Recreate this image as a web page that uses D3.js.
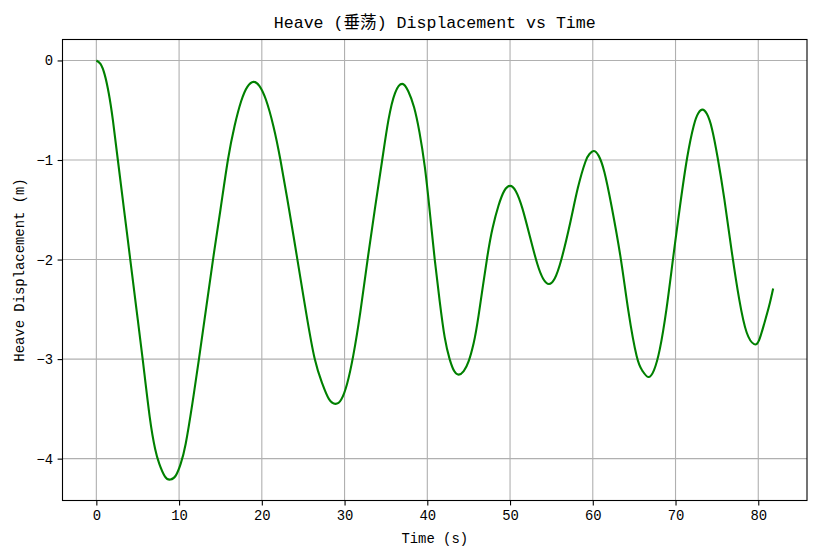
<!DOCTYPE html>
<html>
<head>
<meta charset="utf-8">
<script src="https://cdn.jsdelivr.net/npm/d3@7"></script>
<style>
  body { margin: 0; background: #fff; }
  svg text { font-family: "Liberation Mono", "Noto Sans CJK SC", monospace; fill: #000; }
  .grid line { stroke: #b0b0b0; stroke-width: 1.1; }
  .axis path, .axis line { stroke: #000; stroke-width: 1.1; }
</style>
</head>
<body>
<script>
// time samples (s)
var timeSec = [
  0, 0.5, 1.0, 1.5, 2.0, 2.6, 3.35, 4.1, 4.85, 5.6, 6.45, 7.1, 7.6, 8.3, 8.95,
  9.6, 10.2, 10.8, 11.6, 12.4, 13.25, 14.1, 15.0, 15.9, 16.7, 17.5, 18.25, 19.0,
  19.7, 20.5, 21.4, 22.25, 23.3, 24.3, 25.35, 26.4, 27.3, 28.1, 28.9,
  29.6, 30.3, 31.05, 31.9, 32.8, 33.7, 34.55, 35.3, 36.1, 36.97,
  37.7, 38.4, 39.05, 39.7, 40.3, 40.9, 41.5, 42.1, 42.7, 43.25, 43.8,
  44.4, 45.0, 45.6, 46.2, 47.2, 47.9, 48.6, 49.3, 50.0,
  50.7, 51.5, 52.4, 53.3, 54.0, 54.7,
  55.4, 56.2, 57.3, 58.2, 59.1, 59.6, 60.1,
  60.7, 61.4, 62.3, 63.4, 64.3, 65.3, 66.0, 66.7,
  67.4, 68.1, 68.9, 69.7, 70.55, 71.4, 72.2, 72.75, 73.25,
  73.8, 74.4, 75.1, 75.9, 76.8, 77.7, 78.6, 79.5,
  80.1, 80.7, 81.3, 81.8
];

// heave displacement (m)
var heave = [
  0, -0.035, -0.14, -0.33, -0.6, -1.0, -1.5, -2.0, -2.5, -3.0, -3.58, -3.9, -4.05, -4.18, -4.21,
  -4.17, -4.05, -3.85, -3.45, -3.0, -2.5, -2.0, -1.5, -1.0, -0.66, -0.41, -0.265, -0.215,
  -0.255, -0.395, -0.66, -1.0, -1.5, -2.0, -2.53, -3.0, -3.245, -3.4, -3.45,
  -3.406, -3.25, -2.965, -2.53, -1.99, -1.47, -1.0, -0.6, -0.327, -0.235,
  -0.31, -0.47, -0.72, -1.07, -1.52, -2.0, -2.42, -2.78, -3.0, -3.12, -3.156,
  -3.12, -3.02, -2.84, -2.56, -2.0, -1.68, -1.46, -1.31, -1.26,
  -1.313, -1.488, -1.769, -2.045, -2.192, -2.245,
  -2.19, -2.0, -1.62, -1.28, -1.02, -0.94, -0.91,
  -0.956, -1.12, -1.477, -2.0, -2.516, -2.97, -3.118, -3.18,
  -3.11, -2.9, -2.5, -1.99, -1.458, -0.98, -0.655, -0.53, -0.494,
  -0.539, -0.685, -0.98, -1.394, -1.922, -2.4, -2.733, -2.85,
  -2.81, -2.65, -2.47, -2.29
];

var xTicks = [0, 10, 20, 30, 40, 50, 60, 70, 80];
var yTicks = [0, -1, -2, -3, -4];

var titleText = "Heave (垂荡) Displacement vs Time";
var xLabel = "Time (s)";
var yLabel = "Heave Displacement (m)";

var W = 817, H = 558;
var margin = { top: 39.5, right: 10, bottom: 57.5, left: 62.5 };
var width = W - margin.left - margin.right,
    height = H - margin.top - margin.bottom;

var data = timeSec.map(function(t, i) { return { t: t, v: heave[i] }; });

// matplotlib style 5% padding
var xExt = d3.extent(timeSec), yExt = d3.extent(heave);
var xPad = (xExt[1] - xExt[0]) * 0.05, yPad = (yExt[1] - yExt[0]) * 0.05;

var x = d3.scaleLinear().domain([xExt[0] - xPad, xExt[1] + xPad]).range([0, width]);
var y = d3.scaleLinear().domain([yExt[0] - yPad, yExt[1] + yPad]).range([height, 0]);

var svg = d3.select("body").append("svg")
    .attr("width", W)
    .attr("height", H),
  g = svg.append("g")
    .attr("transform", "translate(" + margin.left + "," + margin.top + ")");

// grid
g.append("g").attr("class", "grid")
  .selectAll("line").data(xTicks).enter().append("line")
  .attr("x1", function(d) { return x(d); }).attr("x2", function(d) { return x(d); })
  .attr("y1", 0).attr("y2", height);
g.append("g").attr("class", "grid")
  .selectAll("line").data(yTicks).enter().append("line")
  .attr("y1", function(d) { return y(d); }).attr("y2", function(d) { return y(d); })
  .attr("x1", 0).attr("x2", width);

// the curve
var line = d3.line()
  .x(function(d) { return x(d.t); })
  .y(function(d) { return y(d.v); })
  .curve(d3.curveNatural);

g.append("path")
  .datum(data)
  .attr("fill", "none")
  .attr("stroke", "#008000")
  .attr("stroke-width", 2.1)
  .attr("stroke-linejoin", "round")
  .attr("d", line);

// axes
var fmt = d3.format("d");
var xAxis = g.append("g").attr("class", "axis")
  .attr("transform", "translate(0," + height + ")")
  .call(d3.axisBottom(x).tickValues(xTicks).tickFormat(fmt).tickSizeInner(4.9).tickSizeOuter(0).tickPadding(4.5));
var yAxis = g.append("g").attr("class", "axis")
  .call(d3.axisLeft(y).tickValues(yTicks).tickFormat(fmt).tickSizeInner(4.9).tickSizeOuter(0).tickPadding(4.5));
xAxis.select(".domain").remove();
yAxis.select(".domain").remove();
svg.selectAll(".axis text").style("font-size", "13.9px").style("font-family", null);

// frame
g.append("rect")
  .attr("width", width).attr("height", height)
  .attr("fill", "none").attr("stroke", "#000").attr("stroke-width", 1.1);

// labels
svg.append("text")
  .attr("x", margin.left + width / 2).attr("y", 28)
  .attr("text-anchor", "middle")
  .style("font-size", "16.6px")
  .text(titleText);

svg.append("text")
  .attr("x", margin.left + width / 2).attr("y", 543)
  .attr("text-anchor", "middle")
  .style("font-size", "13.9px")
  .text(xLabel);

svg.append("text")
  .attr("transform", "translate(24," + (margin.top + height / 2) + ") rotate(-90)")
  .attr("text-anchor", "middle")
  .style("font-size", "13.9px")
  .text(yLabel);
</script>
</body>
</html>
